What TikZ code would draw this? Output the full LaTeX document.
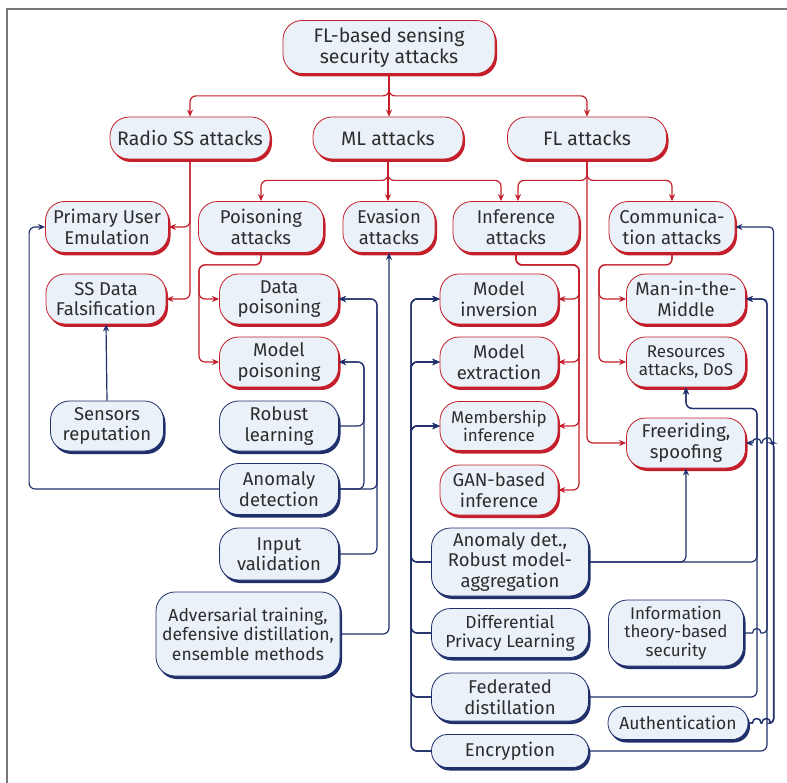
\documentclass[tikz,border=0pt]{standalone}
\usepackage{fontspec}
\setmainfont{Fira Sans}
\usetikzlibrary{arrows.meta,shadows}

\definecolor{atkred}{RGB}{196,30,42}
\definecolor{dfnblue}{RGB}{31,47,107}
\definecolor{boxfill}{RGB}{234,241,248}
\definecolor{txtgray}{RGB}{45,45,45}
\definecolor{framegray}{RGB}{120,120,120}

\tikzset{
  box/.style={rounded corners=19pt, fill=boxfill, line width=0.8pt, align=center,
    inner sep=1pt, text=txtgray, font=\fontsize{18.5}{20.5}\selectfont},
  atk/.style={box, draw=atkred,
    general shadow={fill=atkred, shadow xshift=2pt, shadow yshift=-3pt}},
  dfn/.style={box, draw=dfnblue,
    general shadow={fill=dfnblue, shadow xshift=2pt, shadow yshift=-3pt}},
  big/.style={font=\fontsize{19.5}{21}\selectfont},
  mid/.style={font=\fontsize{17.5}{19.5}\selectfont},
  small/.style={font=\fontsize{17}{18.5}\selectfont},
  atkline/.style={draw=atkred, line width=1.2pt, rounded corners=6pt,
    -{Stealth[length=7pt,width=6pt]}},
  dfnline/.style={draw=dfnblue, line width=1.2pt, rounded corners=6pt,
    -{Stealth[length=7pt,width=6pt]}},
}

\begin{document}
\begin{tikzpicture}[x=1pt,y=-1pt]
\useasboundingbox (0,0) rectangle (787,783);
\draw[framegray, line width=1.5pt] (7,783) -- (7,9) -- (787,9);

% attacks
\node[atk, big, minimum width=212pt, minimum height=53pt] (root) at (389,47) {FL-based sensing\\security attacks};

\node[atk, big, minimum width=160pt, minimum height=42pt] (radio) at (190,138) {Radio SS attacks};
\node[atk, big, minimum width=150pt, minimum height=42pt] (ml) at (388,138) {ML attacks};
\node[atk, big, minimum width=159pt, minimum height=42pt] (fl) at (587,138) {FL attacks};

\node[atk, minimum width=123pt, minimum height=51pt] (pue) at (107,227) {Primary User\\Emulation};
\node[atk, minimum width=125pt, minimum height=51pt] (poison) at (261,227) {Poisoning\\attacks};
\node[atk, minimum width=92pt, minimum height=51pt] (evasion) at (389,227) {Evasion\\attacks};
\node[atk, minimum width=126pt, minimum height=51pt] (infer) at (516,227) {Inference\\attacks};
\node[atk, minimum width=126pt, minimum height=51pt] (comm) at (672,227) {Communica-\\tion attacks};

\node[atk, minimum width=120pt, minimum height=50pt] (ssdf) at (106,299) {SS Data\\Falsification};
\node[atk, minimum width=119pt, minimum height=50pt] (datap) at (279,299) {Data\\poisoning};
\node[atk, minimum width=119pt, minimum height=50pt] (modelp) at (279,362) {Model\\poisoning};

\node[atk, minimum width=118pt, minimum height=50pt] (minv) at (499,299) {Model\\inversion};
\node[atk, minimum width=118pt, minimum height=50pt] (mext) at (499,362) {Model\\extraction};
\node[atk, small, minimum width=118pt, minimum height=49pt] (memb) at (499,426) {Membership\\inference};
\node[atk, minimum width=118pt, minimum height=50pt] (gan) at (499,490) {GAN-based\\inference};

\node[atk, minimum width=119pt, minimum height=50pt] (mitm) at (686,299) {Man-in-the-\\Middle};
\node[atk, small, minimum width=119pt, minimum height=50pt] (res) at (686,362) {Resources\\attacks, DoS};
\node[atk, minimum width=119pt, minimum height=50pt] (freeride) at (686,443) {Freeriding,\\spoofing};

% defences
\node[dfn, minimum width=113pt, minimum height=50pt] (sensor) at (107,426) {Sensors\\reputation};
\node[dfn, minimum width=119pt, minimum height=50pt] (robust) at (279,426) {Robust\\learning};
\node[dfn, minimum width=119pt, minimum height=51pt] (anomaly) at (279,489) {Anomaly\\detection};
\node[dfn, minimum width=119pt, minimum height=52pt] (input) at (279,554) {Input\\validation};
\node[dfn, mid, minimum width=184pt, minimum height=84pt] (adv) at (248,634) {Adversarial training,\\defensive distillation,\\ensemble methods};

\node[dfn, minimum width=157pt, minimum height=68pt] (anodet) at (510,562) {Anomaly det.,\\Robust model-\\aggregation};
\node[dfn, mid, minimum width=157pt, minimum height=49pt] (dpl) at (510,633) {Differential\\Privacy Learning};
\node[dfn, minimum width=157pt, minimum height=48pt] (fedd) at (510,697) {Federated\\distillation};
\node[dfn, rounded corners=16pt, minimum width=157pt, minimum height=33pt] (encr) at (510,751) {Encryption};

\node[dfn, small, minimum width=135pt, minimum height=66pt] (info) at (676,633) {Information\\theory-based\\security};
\node[dfn, mid, rounded corners=16pt, minimum width=140pt, minimum height=33pt] (auth) at (678,723) {Authentication};

% attack tree
\draw[atkline] (root.south) -- ++(0,22) -| (radio.north);
\draw[atkline] (root.south) -- (root.south |- ml.north);
\draw[atkline] (root.south) -- ++(0,22) -| (fl.north);

\draw[atkline] (ml.south) -- ++(0,21) -| (poison.north);
\draw[atkline] (ml.south) -- (ml.south |- evasion.north);
\draw[atkline] (ml.south) -- ++(0,21) -| ([xshift=-15pt]infer.north);

\draw[atkline] (fl.south) -- ++(0,21) -| ([xshift=2pt]infer.north);
\draw[atkline] (fl.south) -- ++(0,21) -| (comm.north);
\draw[atkline] (fl.south) |- (freeride.west);

\draw[atkline] (radio.south) |- (pue.east);
\draw[atkline] (radio.south) |- (ssdf.east);

\foreach \t in {datap,modelp}
  \draw[atkline] (poison.south) |- ++(-62,12) |- (\t.west);
\foreach \t in {minv,mext,memb,gan}
  \draw[atkline] (infer.south) |- ++(63,12) |- (\t.east);
\foreach \t in {mitm,res}
  \draw[atkline] (comm.south) |- ++(-73,12) |- (\t.west);

% defences to attacks
\draw[dfnline] (sensor.north) -- (ssdf.south);
\draw[dfnline] (anomaly.west) -- ++(-190,0) |- (pue.west);
\draw[dfnline] (anomaly.east) -- ++(38,0) |- (datap.east);
\draw[dfnline] (input.east) -- ++(38,0) |- (datap.east);
\draw[dfnline] (anomaly.east) -- ++(25,0) |- (modelp.east);
\draw[dfnline] (robust.east) -- ++(25,0) |- (modelp.east);
\draw[dfnline] (adv.east) -| (evasion.south);

\foreach \d in {anodet,dpl,fedd,encr}
  \foreach \t in {minv,mext,memb}
    \draw[dfnline] (\d.west) -- ++(-20,0) |- (\t.west);

\draw[dfnline] (anodet.east) -| (freeride.south);
\draw[dfnline] (anodet.east) -| ([xshift=71pt,yshift=-21pt]res.south) -| (res.south);
\draw[dfnline] (fedd.east) -| ([xshift=71pt,yshift=-21pt]res.south) -| (res.south);
\draw[dfnline] (encr.east) -| ([xshift=21pt]mitm.east) -- (mitm.east);

% lines hopping over the verticals
\draw[dfnline] (info.east) [sharp corners] -- (752.5,633)
  .. controls (752.5,627) and (761,627) .. (761,633)
  [rounded corners=4pt] -| ([xshift=21pt]mitm.east) -- (mitm.east);
\draw[dfnline] (auth.east) [sharp corners] -- (752.5,723)
  .. controls (752.5,717) and (761,717) .. (761,723) -- (762,723)
  .. controls (762,717) and (770.5,717) .. (770.5,723)
  [rounded corners=4pt] -| ([xshift=38pt]comm.east) -- (comm.east);
\draw[dfnline] (auth.east) [sharp corners] -- (752.5,723)
  .. controls (752.5,717) and (761,717) .. (761,723) -- (762,723)
  .. controls (762,717) and (770.5,717) .. (770.5,723)
  [rounded corners=4pt] -| ([xshift=28pt]freeride.east) -- (770.5,443)
  [sharp corners] .. controls (770.5,437) and (762,437) .. (762,443) -- (761,443)
  .. controls (761,437) and (752.5,437) .. (752.5,443) -- (freeride.east);

\end{tikzpicture}
\end{document}
